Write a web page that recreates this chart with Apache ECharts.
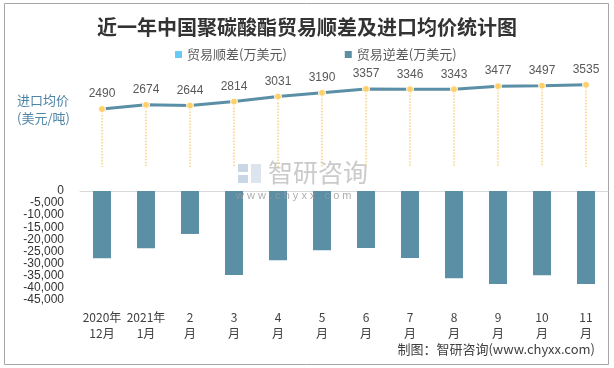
<!DOCTYPE html>
<html>
<head>
<meta charset="utf-8">
<script src="https://cdn.jsdelivr.net/npm/echarts@6/dist/echarts.min.js"></script>
<style>
html,body{margin:0;padding:0;background:#fff;}
#chart{width:614px;height:368px;}
</style>
</head>
<body>
<div id="chart"></div>
<script>
var categories = ['2020年\n12月','2021年\n1月','2\n月','3\n月','4\n月','5\n月','6\n月','7\n月','8\n月','9\n月','10\n月','11\n月'];
var surplus = [null,null,null,null,null,null,null,null,null,null,null,null];
var deficit = [-27900,-23700,-17800,-34800,-28700,-24600,-23600,-27800,-36200,-38500,-34900,-38500];
var avgPrice = [2490,2674,2644,2814,3031,3190,3357,3346,3343,3477,3497,3535];
var barTicks = {min:-45000, max:0, interval:5000};

var FONT = '"Noto Sans CJK SC","Liberation Sans",Arial,sans-serif';
var chart = echarts.init(document.getElementById('chart'));

var dropLines = avgPrice.map(function(v,i){
  return [{coord:[i, v]},{coord:[i, 0]}];
});

var option = {
  animation:false,
  textStyle:{fontFamily:FONT},
  title:{
    text:'近一年中国聚碳酸酯贸易顺差及进口均价统计图',
    left:'center', top:12,
    textStyle:{fontSize:20,fontWeight:'bold',color:'#333',fontFamily:FONT}
  },
  legend:{
    top:43, left:170,
    itemWidth:7, itemHeight:7, itemGap:58, icon:'rect',
    textStyle:{fontSize:13,color:'#595959',fontFamily:FONT},
    data:['贸易顺差(万美元)','贸易逆差(万美元)']
  },
  grid:[
    {left:80, right:6, top:74, height:93},
    {left:80, right:6, top:191, height:108.6}
  ],
  xAxis:[
    {gridIndex:0, type:'category', data:categories, show:false},
    {gridIndex:1, type:'category', data:categories, position:'bottom',
     axisLine:{show:false, onZero:false}, axisTick:{show:false},
     axisLabel:{fontSize:12, color:'#404040', margin:10, lineHeight:16, interval:0, fontFamily:FONT}},
    {gridIndex:1, type:'category', data:categories, position:'top',
     axisLine:{show:true, onZero:false, lineStyle:{color:'#D9D9D9', width:1}},
     axisTick:{show:false}, axisLabel:{show:false}}
  ],
  yAxis:[
    {gridIndex:0, type:'value', min:0, max:4000, show:false, splitLine:{show:false}},
    {gridIndex:1, type:'value', min:barTicks.min, max:barTicks.max, interval:barTicks.interval,
     axisLine:{show:false}, axisTick:{show:false}, splitLine:{show:false},
     axisLabel:{fontSize:12, color:'#333', margin:16, fontFamily:'"Liberation Sans",Arial,sans-serif'}}
  ],
  series:[
    {name:'贸易顺差(万美元)', type:'bar', xAxisIndex:1, yAxisIndex:1, stack:'trade',
     data:surplus, barWidth:18, itemStyle:{color:'#66CCF5'}},
    {name:'贸易逆差(万美元)', type:'bar', xAxisIndex:1, yAxisIndex:1, stack:'trade',
     data:deficit, barWidth:18, itemStyle:{color:'#5B8FA6'}},
    {name:'进口均价', type:'line', xAxisIndex:0, yAxisIndex:0, data:avgPrice,
     symbol:'circle', symbolSize:7,
     lineStyle:{color:'#5B8FA6', width:3},
     itemStyle:{color:'#FFD06A', borderColor:'#fff', borderWidth:1},
     label:{show:true, position:'top', distance:5, fontSize:12, color:'#595959',
            fontFamily:'"Liberation Sans",Arial,sans-serif'},
     markLine:{silent:true, symbol:['none','none'], label:{show:false},
       lineStyle:{color:'#FAD27E', type:'dotted', width:1.5},
       data:dropLines},
     z:5}
  ],
  graphic:[
    {type:'rect', shape:{x:4.5, y:3.5, width:604, height:361}, style:{fill:'none', stroke:'#A6A6A6', lineWidth:1}, z:-1, silent:true},
    {type:'text', left:17, top:91, style:{text:'进口均价\n(美元/吨)', font:'13px '+FONT, fill:'#4E84A6', lineHeight:18}},
    {type:'text', right:19, top:343, style:{text:'制图：智研咨询(www.chyxx.com)', font:'13px '+FONT, fill:'#404040'}},
    {type:'rect', shape:{x:238, y:164, width:10, height:8}, style:{fill:'#C9D6E6'}, z:1, silent:true},
    {type:'rect', shape:{x:238, y:175, width:10, height:8}, style:{fill:'#C9D6E6'}, z:1, silent:true},
    {type:'rect', shape:{x:251, y:164, width:10, height:19}, style:{fill:'#DCE4EE'}, z:1, silent:true},
    {type:'text', left:268, top:160, style:{text:'智研咨询', font:'25px '+FONT, fill:'#C4C4C4', opacity:0.9}, z:1, silent:true},
    {type:'text', left:236, top:190, style:{text:'w w w . c h y x x . c o m', font:'11px "Liberation Sans",Arial,sans-serif', fill:'#9A9A9A', opacity:0.8}, z:100, silent:true}
  ]
};
chart.setOption(option);
</script>
</body>
</html>
